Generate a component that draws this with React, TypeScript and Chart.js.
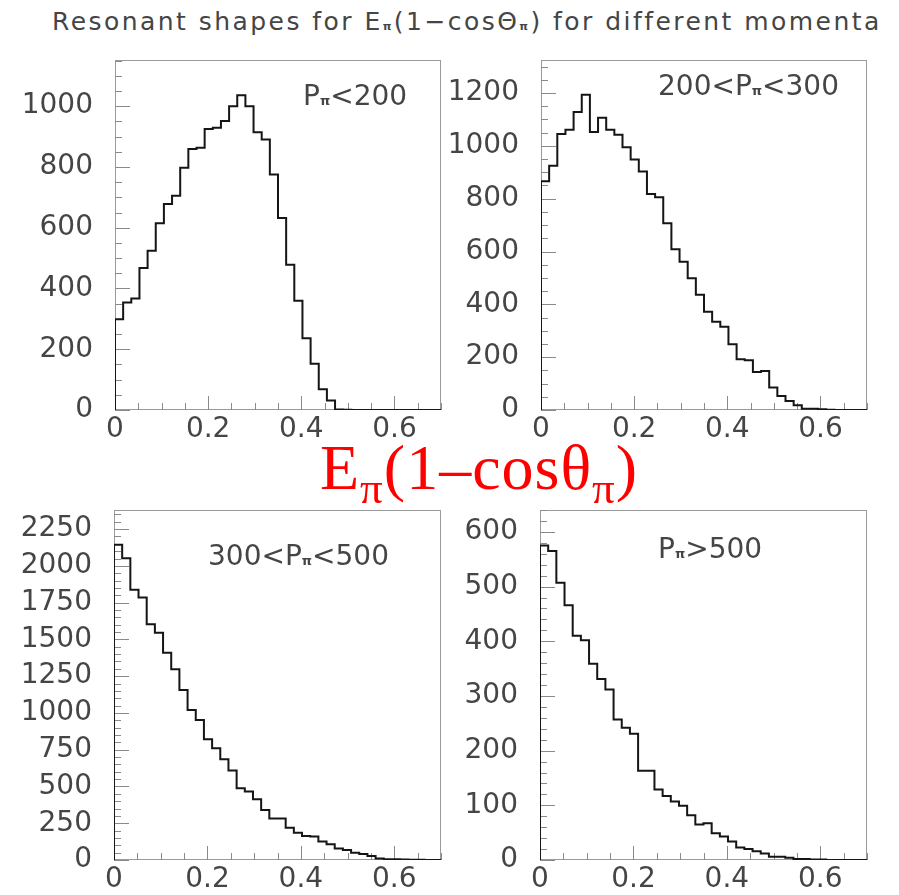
import React, { useEffect, useRef } from "react";
import { Chart, registerables } from "chart.js";

Chart.register(...registerables);

// ---- Data ----
const X_MIN = 0;
const X_MAX = 0.7;
const N_BINS = 40;
const X_TICKS = [0, 0.2, 0.4, 0.6];
const X_MINOR_STEP = 0.05;

const P1_VALUES = [299, 354, 367, 467, 524, 615, 678, 705, 797, 859, 863, 925, 929, 951, 1000, 1036, 1000, 914, 890, 775, 632, 478, 360, 236, 152, 68, 31, 2, 1, 0, 0, 0, 0, 0, 0, 0, 0, 0, 0, 0];
const P2_VALUES = [866, 925, 1045, 1061, 1128, 1193, 1052, 1106, 1061, 1042, 995, 948, 903, 818, 805, 707, 609, 561, 499, 436, 372, 334, 315, 249, 192, 188, 144, 148, 85, 53, 34, 18, 5, 5, 3, 1, 0, 0, 0, 0];
const P3_VALUES = [2143, 2052, 1837, 1785, 1603, 1546, 1410, 1297, 1156, 1020, 952, 821, 760, 685, 608, 488, 465, 413, 340, 283, 283, 220, 186, 163, 159, 125, 107, 79, 68, 50, 41, 27, 11, 5, 5, 4, 2, 1, 0, 0];
const P4_VALUES = [575, 565, 507, 466, 410, 402, 359, 331, 312, 257, 242, 231, 163, 163, 129, 117, 107, 99, 82, 65, 67, 49, 43, 34, 23, 20, 16, 12, 6, 6, 4, 2, 2, 1, 1, 0, 0, 0, 0, 0];

const P1_Y_TICKS = [0, 200, 400, 600, 800, 1000];
const P2_Y_TICKS = [0, 200, 400, 600, 800, 1000, 1200];
const P3_Y_TICKS = [0, 250, 500, 750, 1000, 1250, 1500, 1750, 2000, 2250];
const P4_Y_TICKS = [0, 100, 200, 300, 400, 500, 600];

const P1_Y_MAX = 1152;
const P2_Y_MAX = 1325;
const P3_Y_MAX = 2380;
const P4_Y_MAX = 640;

const P1_Y_MINOR = 50;
const P2_Y_MINOR = 50;
const P3_Y_MINOR = 50;
const P4_Y_MINOR = 20;

const TITLE_MAIN = "Resonant shapes for E";
const TITLE_MID = "(1\u2212cos\u0398";
const TITLE_END = ") for different momenta";
const PI = "\u03c0";

// ---- Layout ----
const AXIS_W = 112;
const AXIS_H = 48;
const PAD_T = 12;
const PAD_R = 12;
const TEXT_COLOR = "#454545";
const FRAME_COLOR = "#9a9a9a";
const TICK_COLOR = "#8a8a8a";
const FONT = "'DejaVu Sans', sans-serif";

type PanelSpec = {
  values: number[];
  yTicks: number[];
  yMax: number;
  yMinor: number;
  area: { left: number; top: number; right: number; bottom: number };
};

const framePlugin = {
  id: "rootFrame",
  beforeDatasetsDraw(chart: any, _args: any, opts: any) {
    const { ctx, chartArea } = chart;
    const { left, top, right, bottom } = chartArea;
    const xs = chart.scales.x;
    const ys = chart.scales.y;
    ctx.save();
    ctx.strokeStyle = FRAME_COLOR;
    ctx.lineWidth = 1;
    ctx.strokeRect(left + 0.5, top + 0.5, right - left - 1, bottom - top - 1);
    ctx.strokeStyle = TICK_COLOR;
    ctx.beginPath();
    const yMinor: number = opts.yMinor;
    const yMajor: number[] = opts.yTicks;
    for (let v = 0; v <= ys.max + 1e-9; v += yMinor) {
      const isMajor = yMajor.some((m) => Math.abs(m - v) < 1e-6);
      const py = Math.round(ys.getPixelForValue(v)) + 0.5;
      ctx.moveTo(left, py);
      ctx.lineTo(left + (isMajor ? 15 : 7), py);
    }
    const nMinor = Math.round((X_MAX - X_MIN) / X_MINOR_STEP);
    for (let i = 0; i <= nMinor; i++) {
      const v = X_MIN + i * X_MINOR_STEP;
      const isMajor = X_TICKS.some((m) => Math.abs(m - v) < 1e-6);
      const px = Math.round(xs.getPixelForValue(v)) + 0.5;
      ctx.moveTo(px, bottom);
      ctx.lineTo(px, bottom - (isMajor ? 14 : 7));
    }
    ctx.stroke();
    ctx.restore();
  },
};

const zeroPad = (s: any) => {
  s.paddingTop = 0;
  s.paddingBottom = 0;
  s.paddingLeft = 0;
  s.paddingRight = 0;
};

function HistPanel({ spec }: { spec: PanelSpec }) {
  const ref = useRef<HTMLCanvasElement | null>(null);
  const { area } = spec;
  const w = area.right - area.left + AXIS_W + PAD_R;
  const h = area.bottom - area.top + PAD_T + AXIS_H;

  useEffect(() => {
    if (!ref.current) return;
    const binW = (X_MAX - X_MIN) / N_BINS;
    // histogram outline: each bin contributes its left and right edge at its height
    const pts: { x: number; y: number }[] = [{ x: X_MIN, y: 0 }];
    spec.values.forEach((v, i) => {
      pts.push({ x: X_MIN + i * binW, y: v });
      pts.push({ x: X_MIN + (i + 1) * binW, y: v });
    });

    const chart = new Chart(ref.current, {
      type: "line",
      data: {
        datasets: [
          {
            data: pts,
            borderColor: "#151515",
            borderWidth: 2,
            pointRadius: 0,
            tension: 0,
            fill: false,
          },
        ],
      },
      options: {
        animation: false,
        responsive: false,
        maintainAspectRatio: false,
        layout: { padding: { left: 0, top: PAD_T, right: PAD_R, bottom: 0 } },
        plugins: {
          legend: { display: false },
          tooltip: { enabled: false },
          rootFrame: { yTicks: spec.yTicks, yMinor: spec.yMinor },
        } as any,
        scales: {
          x: {
            type: "linear",
            min: X_MIN,
            max: X_MAX,
            grid: { display: false, drawTicks: false },
            border: { display: false },
            ticks: {
              font: { family: FONT, size: 28 },
              color: TEXT_COLOR,
              padding: 3,
              autoSkip: false,
              maxRotation: 0,
              callback: (v: any) => String(Math.round(Number(v) * 10) / 10),
            },
            afterBuildTicks: (s: any) => {
              s.ticks = X_TICKS.map((v) => ({ value: v }));
            },
            afterFit: (s: any) => {
              s.height = AXIS_H;
              zeroPad(s);
            },
          },
          y: {
            type: "linear",
            min: 0,
            max: spec.yMax,
            grid: { display: false, drawTicks: false },
            border: { display: false },
            ticks: {
              font: { family: FONT, size: 28 },
              color: TEXT_COLOR,
              padding: 22,
              autoSkip: false,
              callback: (v: any) => String(v),
            },
            afterBuildTicks: (s: any) => {
              s.ticks = spec.yTicks.map((v) => ({ value: v }));
            },
            afterFit: (s: any) => {
              s.width = AXIS_W;
              zeroPad(s);
            },
          },
        },
      } as any,
      plugins: [framePlugin],
    });
    return () => chart.destroy();
  }, [spec]);

  return (
    <canvas
      ref={ref}
      width={w}
      height={h}
      style={{
        position: "absolute",
        left: area.left - AXIS_W,
        top: area.top - PAD_T,
        width: w,
        height: h,
      }}
    />
  );
}

const PANELS: PanelSpec[] = [
  { values: P1_VALUES, yTicks: P1_Y_TICKS, yMax: P1_Y_MAX, yMinor: P1_Y_MINOR, area: { left: 115, top: 60, right: 441, bottom: 410 } },
  { values: P2_VALUES, yTicks: P2_Y_TICKS, yMax: P2_Y_MAX, yMinor: P2_Y_MINOR, area: { left: 541, top: 60, right: 867, bottom: 410 } },
  { values: P3_VALUES, yTicks: P3_Y_TICKS, yMax: P3_Y_MAX, yMinor: P3_Y_MINOR, area: { left: 114, top: 510, right: 441, bottom: 860 } },
  { values: P4_VALUES, yTicks: P4_Y_TICKS, yMax: P4_Y_MAX, yMinor: P4_Y_MINOR, area: { left: 540, top: 510, right: 867, bottom: 860 } },
];

const subPi = (size: number, bold = true) => (
  <span style={{ fontSize: size, fontWeight: bold ? "bold" : "normal" }}>{PI}</span>
);

function PanelLabel({ left, top, before, after }: { left: number; top: number; before: string; after: string }) {
  return (
    <div
      style={{
        position: "absolute",
        left,
        top,
        fontFamily: FONT,
        fontSize: 28,
        lineHeight: "28px",
        color: TEXT_COLOR,
        whiteSpace: "nowrap",
      }}
    >
      {before}P{subPi(13)}
      {after}
    </div>
  );
}

export default function App() {
  return (
    <div style={{ position: "absolute", left: 0, top: 0, width: 899, height: 895, background: "#fff", overflow: "hidden" }}>
      <div
        style={{
          position: "absolute",
          left: 52,
          top: 9,
          fontFamily: FONT,
          fontSize: 25,
          lineHeight: "25px",
          letterSpacing: "2.45px",
          color: TEXT_COLOR,
          whiteSpace: "nowrap",
        }}
      >
        {TITLE_MAIN}
        {subPi(11)}
        {TITLE_MID}
        {subPi(11)}
        {TITLE_END}
      </div>
      {PANELS.map((p, i) => (
        <HistPanel key={i} spec={p} />
      ))}
      <PanelLabel left={303} top={82} before="" after="<200" />
      <PanelLabel left={658} top={72} before="200<" after="<300" />
      <PanelLabel left={208} top={542} before="300<" after="<500" />
      <PanelLabel left={658} top={535} before="" after=">500" />
      <div
        style={{
          position: "absolute",
          left: 320,
          top: 436,
          fontFamily: "'Liberation Serif', serif",
          fontSize: 64,
          lineHeight: "64px",
          letterSpacing: "1px",
          color: "#ff0000",
          whiteSpace: "nowrap",
        }}
      >
        E<span style={{ fontSize: 45, position: "relative", top: 14 }}>{PI}</span>(1{"\u2013"}cos{"\u03b8"}
        <span style={{ fontSize: 45, position: "relative", top: 14 }}>{PI}</span>)
      </div>
    </div>
  );
}
